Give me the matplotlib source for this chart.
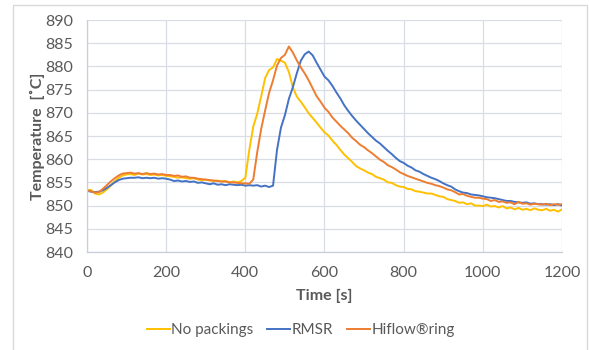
import matplotlib
matplotlib.use("Agg")
import matplotlib.pyplot as plt
import matplotlib.patches as patches
import numpy as np

plt.rcParams['font.family'] = ['Lato', 'DejaVu Sans']

# sample times [s], one reading every 10 s
time_s = list(range(0, 1201, 10))

no_packings = [
    853.3, 853.4, 852.6, 852.4, 852.8, 853.5, 854.3, 855.2, 856.0, 856.5,
    856.7, 856.8, 856.6, 856.9, 856.7, 856.8, 856.6, 856.7, 856.5, 856.6,
    856.4, 856.3, 856.2, 856.0, 856.1, 855.9, 855.8, 855.9, 855.6, 855.5,
    855.6, 855.4, 855.3, 855.4, 855.2, 855.3, 855.0, 855.2, 855.0, 855.3,
    856.0, 862.0, 867.0, 869.8, 873.5, 877.5, 879.2, 879.8, 881.6, 881.2,
    880.8, 878.8, 875.5, 873.5, 872.4, 871.2, 869.9, 868.9, 867.9, 866.8,
    865.8, 865.1, 864.0, 863.1, 862.0, 861.0, 860.2, 859.4, 858.5, 858.0,
    857.6, 857.1, 856.8, 856.2, 855.9, 855.6, 855.0, 854.9, 854.4, 854.1,
    854.0, 853.6, 853.5, 853.1, 853.0, 852.8, 852.6, 852.6, 852.3, 852.0,
    851.9, 851.4, 851.2, 851.0, 850.6, 850.7, 850.3, 850.5, 850.0, 850.0,
    849.9, 850.2, 849.8, 849.9, 849.6, 849.9, 849.4, 849.6, 849.2, 849.5,
    849.1, 849.3, 849.0, 849.4, 849.1, 849.0, 849.3, 848.9, 849.1, 848.7,
    849.2,
]

rmsr = [
    853.2, 853.0, 852.9, 853.0, 853.3, 853.8, 854.4, 855.0, 855.5, 855.8,
    855.9, 856.0, 856.0, 856.1, 855.9, 856.0, 855.9, 856.0, 855.8, 855.9,
    855.8, 855.6, 855.3, 855.4, 855.2, 855.3, 855.1, 855.2, 854.9, 855.0,
    854.8, 854.6, 854.8, 854.5, 854.6, 854.4, 854.6, 854.5, 854.4, 854.5,
    854.3, 854.4, 854.3, 854.4, 854.1, 854.3, 854.0, 854.3, 862.0, 866.8,
    869.5, 873.0, 875.5, 878.5, 881.2, 882.6, 883.2, 882.4, 880.8, 879.3,
    877.8, 877.0, 875.8, 874.4, 873.1, 871.6, 870.4, 869.3, 868.3, 867.4,
    866.5, 865.6, 864.8, 864.0, 863.4, 862.6, 861.8, 861.1, 860.3, 859.6,
    859.2, 858.6, 858.2, 857.6, 857.3, 856.8, 856.4, 856.0, 855.7, 855.3,
    854.8, 854.4, 854.1, 853.5, 853.1, 852.8, 852.7, 852.4, 852.3, 852.2,
    852.0, 851.8, 851.7, 851.6, 851.4, 851.2, 851.0, 851.0, 850.8, 850.7,
    850.6, 850.7, 850.4, 850.5, 850.3, 850.3, 850.2, 850.3, 850.1, 850.3,
    850.0,
]

hiflow_ring = [
    853.3, 853.1, 852.8, 852.9, 853.6, 854.4, 855.2, 855.9, 856.5, 856.9,
    857.0, 857.1, 856.9, 857.0, 856.8, 857.0, 856.8, 856.9, 856.7, 856.8,
    856.6, 856.6, 856.4, 856.5, 856.2, 856.3, 856.0, 856.0, 855.8, 855.7,
    855.6, 855.5, 855.4, 855.3, 855.2, 855.2, 855.0, 855.0, 854.9, 854.8,
    854.8, 854.7, 855.6, 861.5, 866.5, 870.5, 874.3, 877.0, 880.2, 881.8,
    882.5, 884.3, 883.0, 881.3, 879.8, 878.5, 877.0, 875.3, 873.6, 872.4,
    871.1, 870.2, 869.0, 868.1, 867.2, 866.4, 865.6, 864.6, 863.9, 863.1,
    862.6, 861.9, 861.3, 860.6, 859.9, 859.4, 858.7, 858.3, 857.8, 857.2,
    856.8, 856.4, 856.1, 855.8, 855.5, 855.2, 854.9, 854.7, 854.4, 854.2,
    853.9, 853.5, 853.3, 852.9, 852.4, 852.5, 852.1, 851.9, 851.7, 851.7,
    851.5, 851.4, 851.0, 851.2, 850.8, 850.9, 850.6, 850.7, 850.3, 850.8,
    850.4, 850.5, 850.2, 850.4, 850.3, 850.2, 850.4, 850.1, 850.3, 850.2,
    850.3,
]

series = [
    ("No packings", no_packings, "#FFC000"),
    ("RMSR", rmsr, "#4472C4"),
    ("Hiflow®ring", hiflow_ring, "#ED7D31"),
]

text_grey = "#595959"
grid_grey = "#D9DDE6"

fig = plt.figure(figsize=(5.89, 3.5), dpi=100)
fig.patch.set_facecolor("white")

# light frame around the whole chart
frame = patches.Rectangle((13 / 589, -0.05), 574 / 589, 1 - 5 / 350 + 0.05,
                          transform=fig.transFigure, facecolor="none",
                          edgecolor="#D9D9D9", linewidth=1.0)
fig.patches.append(frame)

ax = fig.add_axes([87 / 589, 1 - 252 / 350, 475 / 589, 232 / 350])

for name, values, color in series:
    ax.plot(time_s, values, color=color, linewidth=1.4, label=name)

ax.set_xlim(0, 1200)
ax.set_ylim(840, 890)
ax.set_xticks(np.arange(0, 1201, 200))
ax.set_yticks(np.arange(840, 891, 5))
ax.grid(True, color=grid_grey, linewidth=0.9)
ax.set_axisbelow(True)

for side in ["top", "right"]:
    ax.spines[side].set_visible(False)
for side in ["left", "bottom"]:
    ax.spines[side].set_color("#C9CFDA")
    ax.spines[side].set_linewidth(0.9)

ax.tick_params(length=0, labelsize=11.5, labelcolor=text_grey)
ax.tick_params(axis="y", pad=10)
ax.tick_params(axis="x", pad=10)

ax.set_xlabel("Time [s]", fontsize=11.5, fontweight="bold", color=text_grey)
ax.set_ylabel("Temperature  [˚C]", fontsize=11.5, fontweight="bold", color=text_grey)
ax.xaxis.set_label_coords(0.5, -0.16)
ax.yaxis.set_label_coords(-0.088, 0.5)

fig.legend(loc="center", bbox_to_anchor=(301 / 589, 1 - 330 / 350), ncol=3,
           frameon=False, fontsize=11, handlelength=1.5, handletextpad=0.1,
           columnspacing=0.9, labelcolor=text_grey)

fig.savefig("out.png", dpi=100)
